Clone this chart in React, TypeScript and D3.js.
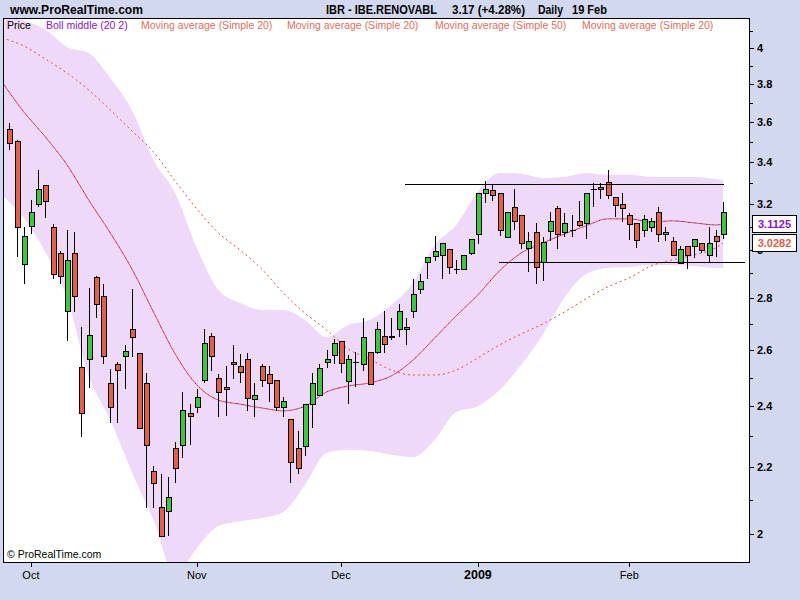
import * as d3 from 'd3';

const W = 800;
const H = 600;
const P = { left: 3, top: 18, right: 749, bottom: 562 };

// daily candles, index 0 = 26 Sep 2008 ... index 99 = 19 Feb 2009
const opens = [
  3.565, 3.505, 2.939, 3.105, 3.2, 3.29, 3.1, 2.984, 2.746, 2.984,
  2.539, 2.568, 2.886, 2.808, 2.479, 2.55, 2.579, 2.68, 2.589, 2.479,
  2.188, 2.078, 2.066, 2.26, 2.27, 2.377, 2.397, 2.49, 2.654, 2.5,
  2.468, 2.557, 2.54, 2.568, 2.425, 2.54, 2.511, 2.49, 2.397, 2.357,
  2.26, 2.266, 2.407, 2.44, 2.557, 2.579, 2.632, 2.49, 2.557, 2.55,
  2.593, 2.593, 2.654, 2.65, 2.68, 2.68, 2.75, 2.837, 2.947, 2.976,
  2.976, 3.005, 2.92, 2.918, 2.984, 3.068, 3.252, 3.265, 3.252, 3.059,
  3.19, 3.15, 3.005, 3.077, 2.947, 3.082, 3.182, 3.077, 3.086, 3.127,
  3.118, 3.27, 3.28, 3.305, 3.236, 3.2, 3.15, 3.118, 3.086, 3.1,
  3.168, 3.068, 3.036, 2.947, 3.014, 3.014, 3.027, 2.976, 3.059, 3.068,
];
const highs = [
  3.595, 3.51, 3.1, 3.22, 3.36, 3.29, 3.11, 2.996, 3.086, 3.076,
  2.688, 2.842, 2.89, 2.857, 2.529, 2.557, 2.618, 2.836, 2.59, 2.518,
  2.205, 2.18, 2.17, 2.28, 2.45, 2.407, 2.46, 2.68, 2.665, 2.511,
  2.54, 2.618, 2.586, 2.59, 2.479, 2.547, 2.54, 2.49, 2.432, 2.357,
  2.318, 2.407, 2.518, 2.55, 2.6, 2.64, 2.632, 2.582, 2.593, 2.72,
  2.593, 2.708, 2.75, 2.72, 2.777, 2.72, 2.878, 2.898, 2.967, 3.059,
  3.027, 3.005, 2.955, 2.976, 3.045, 3.252, 3.31, 3.29, 3.252, 3.168,
  3.27, 3.15, 3.077, 3.118, 3.055, 3.168, 3.195, 3.159, 3.15, 3.218,
  3.252, 3.3, 3.3, 3.36, 3.236, 3.252, 3.159, 3.118, 3.15, 3.141,
  3.19, 3.1, 3.055, 3.014, 3.014, 3.045, 3.027, 3.1, 3.086, 3.21,
];
const lows = [
  3.46, 2.967, 2.857, 3.068, 3.19, 3.14, 2.878, 2.857, 2.635, 2.746,
  2.298, 2.464, 2.72, 2.55, 2.344, 2.344, 2.46, 2.575, 2.328, 2.075,
  2.075, 1.995, 1.995, 2.15, 2.228, 2.27, 2.377, 2.482, 2.525, 2.364,
  2.367, 2.496, 2.482, 2.384, 2.364, 2.468, 2.414, 2.384, 2.364, 2.15,
  2.18, 2.236, 2.328, 2.436, 2.536, 2.547, 2.518, 2.407, 2.468, 2.525,
  2.475, 2.586, 2.59, 2.636, 2.65, 2.618, 2.72, 2.816, 2.878, 2.951,
  2.878, 2.898, 2.898, 2.918, 2.976, 3.023, 3.205, 3.214, 3.059, 3.059,
  3.086, 3.005, 2.906, 2.857, 2.87, 3.036, 3.005, 3.055, 3.055, 3.1,
  3.045, 3.19, 3.227, 3.227, 3.145, 3.123, 3.041, 3.009, 3.055, 3.077,
  3.032, 3.036, 2.976, 2.947, 2.918, 2.963, 2.984, 2.947, 2.967, 3.045,
];
const closes = [
  3.495, 3.1, 3.059, 3.168, 3.27, 3.214, 2.898, 2.886, 2.955, 2.808,
  2.377, 2.658, 2.777, 2.579, 2.397, 2.529, 2.596, 2.65, 2.328, 2.27,
  2.15, 1.995, 2.107, 2.197, 2.387, 2.367, 2.43, 2.625, 2.579, 2.45,
  2.46, 2.55, 2.518, 2.43, 2.44, 2.49, 2.479, 2.397, 2.418, 2.216,
  2.197, 2.407, 2.479, 2.536, 2.568, 2.625, 2.55, 2.568, 2.557, 2.65,
  2.479, 2.68, 2.625, 2.654, 2.75, 2.688, 2.816, 2.87, 2.967, 2.996,
  3.027, 2.927, 2.92, 2.976, 3.045, 3.252, 3.27, 3.24, 3.086, 3.168,
  3.127, 3.027, 3.036, 2.927, 3.032, 3.127, 3.068, 3.118, 3.086, 3.109,
  3.252, 3.27, 3.27, 3.245, 3.2, 3.182, 3.109, 3.045, 3.136, 3.127,
  3.068, 3.077, 2.976, 3.005, 2.976, 3.045, 2.996, 3.027, 3.036, 3.168,
];

// indicators, read at every third bar
const lineIdx = [
  -1, 2, 5, 8, 11, 14, 17, 20, 23, 26, 29, 32, 35, 38, 41, 44, 47, 50,
  53, 56, 59, 62, 65, 68, 71, 74, 77, 80, 83, 86, 89, 92, 95, 98, 99,
];
const bollUpper = [
  4.18, 4.16, 4.105, 4.006, 3.972, 3.833, 3.662, 3.41, 3.253, 3.008, 2.833, 2.78,
  2.753, 2.753, 2.714, 2.649, 2.695, 2.714, 2.773, 2.861, 3.021, 3.108, 3.258,
  3.347, 3.343, 3.323, 3.328, 3.347, 3.338, 3.338, 3.328, 3.328, 3.328, 3.318, 3.314,
];
const bollLower = [
  3.244, 3.139, 2.991, 2.801, 2.506, 2.353, 2.185, 2.04, 1.886, 1.96, 2.023, 2.037,
  2.046, 2.064, 2.145, 2.245, 2.255, 2.251, 2.239, 2.232, 2.287, 2.38, 2.4,
  2.456, 2.545, 2.657, 2.801, 2.898, 2.923, 2.927, 2.935, 2.935, 2.931, 2.923, 2.923,
];
const bollMiddle = [
  3.811, 3.652, 3.524, 3.386, 3.221, 3.073, 2.919, 2.745, 2.586, 2.474, 2.421, 2.407,
  2.394, 2.384, 2.4, 2.449, 2.47, 2.481, 2.506, 2.563, 2.645, 2.73, 2.813,
  2.911, 2.986, 3.029, 3.068, 3.104, 3.135, 3.135, 3.121, 3.126, 3.117, 3.108, 3.1125,
];
const sma50 = [
  4.058, 4.012, 3.938, 3.86, 3.768, 3.662, 3.554, 3.449, 3.309, 3.18, 3.073, 2.999,
  2.919, 2.821, 2.741, 2.676, 2.604, 2.567, 2.527, 2.509, 2.509, 2.527, 2.571,
  2.619, 2.66, 2.699, 2.745, 2.797, 2.845, 2.882, 2.931, 2.957, 2.978, 3.008, 3.0282,
];

// user-drawn horizontal levels
const levelPrice = [3.295, 2.948];
const levelFrom = [54.9, 67.9];
const levelTo = [99.1, 102];

const priceTicks = [2, 2.2, 2.4, 2.6, 2.8, 3, 3.2, 3.4, 3.6, 3.8, 4];
const minorTicks = [2.1, 2.3, 2.5, 2.7, 2.9, 3.1, 3.3, 3.5, 3.7, 3.9, 4.1];
const monthIdx = [3, 26, 46, 65, 86];
const monthLabels = ['Oct', 'Nov', 'Dec', '2009', 'Feb'];

const headerItems = [
  { text: 'www.ProRealTime.com', x: 10, w: 133 },
  { text: 'IBR - IBE.RENOVABL', x: 326, w: 111 },
  { text: '3.17 (+4.28%)', x: 452, w: 73 },
  { text: 'Daily', x: 538, w: 25 },
  { text: '19 Feb', x: 572, w: 35 },
];

const legendItems = [
  { text: 'Price', color: '#000000', x: 7 },
  { text: 'Boll middle (20 2)', color: '#8a14c4', x: 46 },
  { text: 'Moving average (Simple 20)', color: '#e0705a', x: 141 },
  { text: 'Moving average (Simple 20)', color: '#e0705a', x: 287 },
  { text: 'Moving average (Simple 50)', color: '#e0705a', x: 435 },
  { text: 'Moving average (Simple 20)', color: '#e0705a', x: 582 },
];

const FONT = '"Liberation Sans", Arial, sans-serif';
const UP = '#3fc63f';
const DOWN = '#e0604c';
const PURPLE = '#8a14c4';
const MA = '#e4503c';

type Pt = { i: number; u: number; l: number; m: number; s: number };

export default function App() {
  const x = d3.scaleLinear().domain([0, 99]).range([9.3, 723]);
  const y = d3.scaleLog().domain([2, 4]).range([534, 48]);

  const pts: Pt[] = lineIdx.map((i, k) => ({
    i,
    u: bollUpper[k],
    l: bollLower[k],
    m: bollMiddle[k],
    s: sma50[k],
  }));

  const band = d3.area<Pt>()
    .x(d => x(d.i))
    .y0(d => y(d.l))
    .y1(d => y(d.u))
    .curve(d3.curveMonotoneX)(pts) ?? '';
  const mid = d3.line<Pt>()
    .x(d => x(d.i))
    .y(d => y(d.m))
    .curve(d3.curveMonotoneX)(pts) ?? '';
  const slow = d3.line<Pt>()
    .x(d => x(d.i))
    .y(d => y(d.s))
    .curve(d3.curveMonotoneX)(pts) ?? '';

  const last = pts[pts.length - 1];

  return (
    <svg
      width={W}
      height={H}
      style={{ position: 'absolute', left: 0, top: 0, display: 'block' }}
      fontFamily={FONT}
    >
      <defs>
        <clipPath id="plot">
          <rect x={P.left} y={P.top} width={P.right - P.left} height={P.bottom - P.top} />
        </clipPath>
      </defs>

      <rect width={W} height={H} fill="#d2d9ef" />

      {/* header */}
      {headerItems.map((d, k) => (
        <text
          key={k}
          x={d.x}
          y={14}
          fontSize={13}
          fontWeight="bold"
          fill="#000"
          textLength={d.w}
          lengthAdjust="spacingAndGlyphs"
        >
          {d.text}
        </text>
      ))}

      <rect x={P.left} y={P.top} width={P.right - P.left} height={P.bottom - P.top} fill="#ffffff" />

      <g clipPath="url(#plot)">
        <path d={band} fill="#efd9f8" />
        <path d={slow} fill="none" stroke={MA} strokeWidth={1} strokeDasharray="2 3" />
        <path d={mid} fill="none" stroke={PURPLE} strokeWidth={1} strokeDasharray="2 4" strokeDashoffset={-4} />
        <path d={mid} fill="none" stroke={MA} strokeWidth={1} strokeDasharray="4 2" />

        {opens.map((o, i) => {
          const c = closes[i];
          const cx = Math.round(x(i)) + 0.5;
          const top = y(Math.max(o, c));
          const bot = y(Math.min(o, c));
          return (
            <g key={i} shapeRendering="crispEdges">
              <line x1={cx} x2={cx} y1={y(highs[i])} y2={y(lows[i])} stroke="#000" />
              {o === c ? (
                <line x1={cx - 3} x2={cx + 3} y1={Math.round(top) + 0.5} y2={Math.round(top) + 0.5} stroke="#000" />
              ) : (
                <rect
                  x={cx - 2.5}
                  y={Math.round(top) + 0.5}
                  width={5}
                  height={Math.max(1, Math.round(bot - top))}
                  fill={c > o ? UP : DOWN}
                  stroke="#000"
                />
              )}
            </g>
          );
        })}

        {levelPrice.map((p, k) => (
          <line
            key={k}
            x1={x(levelFrom[k])}
            x2={x(levelTo[k])}
            y1={Math.round(y(p)) + 0.5}
            y2={Math.round(y(p)) + 0.5}
            stroke="#000"
            shapeRendering="crispEdges"
          />
        ))}
      </g>

      {/* legend */}
      {legendItems.map((d, k) => (
        <text key={k} x={d.x} y={29} fontSize={10.5} fill={d.color}>{d.text}</text>
      ))}
      <text x={7} y={558} fontSize={10.5} fill="#000">© ProRealTime.com</text>

      <rect
        x={P.left + 0.5}
        y={P.top + 0.5}
        width={P.right - P.left}
        height={P.bottom - P.top}
        fill="none"
        stroke="#000"
        shapeRendering="crispEdges"
      />

      {/* right axis */}
      {minorTicks.map(t => (
        <line key={t} x1={P.right} x2={P.right + 4} y1={Math.round(y(t)) + 0.5} y2={Math.round(y(t)) + 0.5} stroke="#000" shapeRendering="crispEdges" />
      ))}
      {priceTicks.map(t => (
        <g key={t}>
          <line x1={P.right} x2={P.right + 5} y1={Math.round(y(t)) + 0.5} y2={Math.round(y(t)) + 0.5} stroke="#000" shapeRendering="crispEdges" />
          <text x={757} y={y(t) + 4} fontSize={11} fontWeight="bold" fill="#000">{d3.format('~g')(t)}</text>
        </g>
      ))}

      {/* last values */}
      {[
        { v: last.m, color: PURPLE },
        { v: last.s, color: '#e0604c' },
      ].map((b, k) => (
        <g key={k}>
          <rect x={752.5} y={Math.round(y(b.v)) - 8.5} width={44} height={17} fill="#fff" stroke="#000" shapeRendering="crispEdges" />
          <text x={774.5} y={y(b.v) + 4} fontSize={11} fontWeight="bold" textAnchor="middle" fill={b.color}>
            {b.v.toFixed(4)}
          </text>
        </g>
      ))}

      {/* bottom axis */}
      {monthIdx.map((m, k) => (
        <g key={m}>
          <line x1={Math.round(x(m)) + 0.5} x2={Math.round(x(m)) + 0.5} y1={P.bottom} y2={P.bottom + 5} stroke="#000" shapeRendering="crispEdges" />
          <text
            x={x(m)}
            y={579}
            fontSize={monthLabels[k] === '2009' ? 12.5 : 11}
            fontWeight={monthLabels[k] === '2009' ? 'bold' : 'normal'}
            textAnchor="middle"
            fill="#000"
          >
            {monthLabels[k]}
          </text>
        </g>
      ))}
    </svg>
  );
}
